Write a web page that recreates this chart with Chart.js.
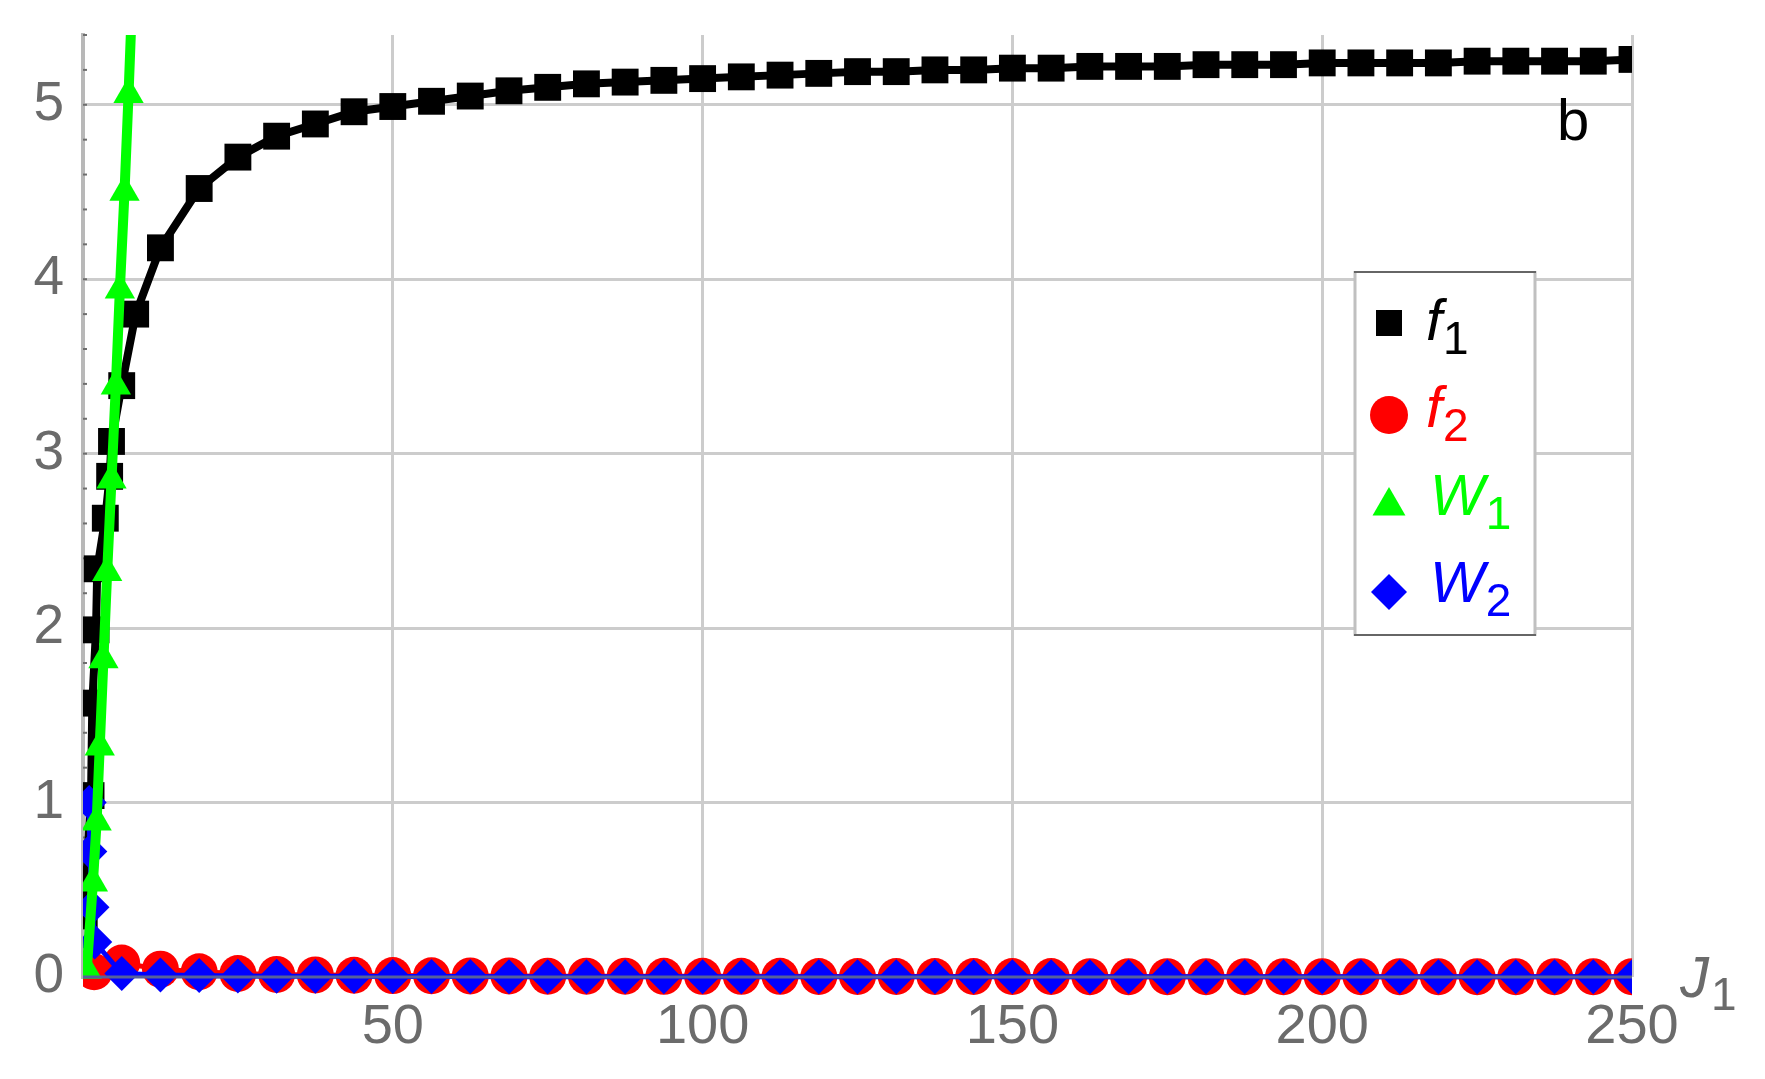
<!DOCTYPE html>
<html><head><meta charset="utf-8">
<script src="https://cdn.jsdelivr.net/npm/chart.js@4.4.1/dist/chart.umd.min.js"></script>
<style>html,body{margin:0;padding:0;background:#fff;overflow:hidden}#wrap{width:1765px;height:1079px;position:relative}</style>
</head><body><div id="wrap"><canvas id="c" width="1765" height="1079"></canvas></div>
<script>
// ---- data ----
const xTickLabels = [50, 100, 150, 200, 250];
const yTickLabels = [0, 1, 2, 3, 4, 5];

const regJ = [6.25,12.5,18.75,25,31.25,37.5,43.75,50,56.25,62.5,68.75,75,81.25,87.5,93.75,100,106.25,112.5,118.75,125,
  131.25,137.5,143.75,150,156.25,162.5,168.75,175,181.25,187.5,193.75,200,206.25,212.5,218.75,225,231.25,237.5,243.75,250];

const f1J = [0.2,1.3,1.5,2.1,2.3,3.6,4.3,4.6,6.25,8.5,12.5,18.75,25,31.25,37.5,43.75,50,56.25,62.5,68.75,75,81.25,87.5,93.75,100,
  106.25,112.5,118.75,125,131.25,137.5,143.75,150,156.25,162.5,168.75,175,181.25,187.5,193.75,200,206.25,212.5,218.75,225,231.25,237.5,243.75,250];
const f1V = [0.35,1.04,1.57,1.99,2.34,2.63,2.87,3.07,3.39,3.80,4.18,4.52,4.70,4.82,4.89,4.96,4.99,5.02,5.05,5.08,5.10,5.12,5.13,5.14,5.15,
  5.16,5.17,5.18,5.19,5.19,5.20,5.20,5.21,5.21,5.22,5.22,5.22,5.23,5.23,5.23,5.24,5.24,5.24,5.24,5.25,5.25,5.25,5.25,5.26];

const f2J = [1.8].concat(regJ);
const f2V = [0.03,0.08,0.045,0.03,0.02,0.015,0.012,0.01,0.008,0.007,0.006,0.006,0.005,0.005,0.005,0.004,0.004,0.004,0.004,0.003,0.003,
  0.003,0.003,0.003,0.003,0.003,0.002,0.002,0.002,0.002,0.002,0.002,0.002,0.002,0.002,0.002,0.002,0.002,0.002,0.002,0.002];

const w1J = [0.6,1.6,2.2,2.7,3.3,3.9,4.6,5.3,5.95,6.7,7.35,7.95];
const w1V = [0.04,0.54,0.89,1.32,1.82,2.32,2.85,3.39,3.94,4.50,5.06,5.62];

const w2J = [1.0,1.1,1.45,1.9].concat(regJ);
const w2V = [1.0,0.72,0.40,0.20,0.02,0.012,0.008,0.006,0.005,0.004,0.004,0.003,0.003,0.003,0.002,0.002,0.002,0.002,0.002,0.002,0.001,0.001,
  0.001,0.001,0.001,0.001,0.001,0.001,0.001,0.001,0.001,0.001,0.001,0.001,0.001,0.001,0.001,0.001,0.001,0.001,0.001,0.001,0.001,0.001];

const seriesNames = ['f', 'f', 'W', 'W'];
const seriesSubs = ['1', '2', '1', '2'];
const panelLabel = 'b';
const xAxisName = 'J';
const xAxisSub = '1';

function pts(xs, ys) { return xs.map((x, i) => ({x: x, y: ys[i]})); }

const colors = ['#000000', '#ff0000', '#00ff00', '#0000ff'];
const styles = ['rect', 'circle', 'triangle', 'rectRot'];

function drawMarker(ctx, style, x, y, r, color) {
  ctx.fillStyle = color; ctx.beginPath();
  if (style === 'rect') { const h = r * Math.SQRT1_2; ctx.rect(x - h, y - h, 2 * h, 2 * h); }
  else if (style === 'circle') { ctx.arc(x, y, r, 0, Math.PI * 2); }
  else if (style === 'triangle') {
    ctx.moveTo(x, y - r);
    ctx.lineTo(x + r * Math.sin(2 * Math.PI / 3), y - r * Math.cos(2 * Math.PI / 3));
    ctx.lineTo(x + r * Math.sin(4 * Math.PI / 3), y - r * Math.cos(4 * Math.PI / 3));
    ctx.closePath();
  } else { ctx.moveTo(x, y - r); ctx.lineTo(x + r, y); ctx.lineTo(x, y + r); ctx.lineTo(x - r, y); ctx.closePath(); }
  ctx.fill();
}

const overlay = {
  id: 'overlay',
  beforeDatasetsDraw(chart) {
    const ctx = chart.ctx, ys = chart.scales.y, a = chart.chartArea;
    ctx.save();
    ctx.strokeStyle = '#6e6e6e'; ctx.lineWidth = 2;
    for (let k = 0; k <= 27; k++) {
      const p = ys.getPixelForValue(k / 5);
      ctx.beginPath(); ctx.moveTo(a.left, p); ctx.lineTo(a.left + 4, p); ctx.stroke();
    }
    ctx.restore();
  },
  afterDatasetsDraw(chart) {
    const ctx = chart.ctx, xs = chart.scales.x, ys = chart.scales.y;
    ctx.save();
    const y0 = ys.getPixelForValue(0);
    ctx.strokeStyle = '#55609c'; ctx.lineWidth = 3;
    ctx.beginPath(); ctx.moveTo(xs.getPixelForValue(0), y0); ctx.lineTo(xs.getPixelForValue(250), y0); ctx.stroke();
    ctx.restore();
  },
  afterDraw(chart) {
    const ctx = chart.ctx;
    ctx.save();
    // legend box
    ctx.fillStyle = '#ffffff'; ctx.fillRect(1354, 271, 182, 365);
    ctx.strokeStyle = '#c0c0c0'; ctx.lineWidth = 3;
    ctx.beginPath(); ctx.moveTo(1355, 271); ctx.lineTo(1355, 636); ctx.moveTo(1535, 271); ctx.lineTo(1535, 636); ctx.stroke();
    ctx.strokeStyle = '#666666'; ctx.lineWidth = 2;
    ctx.beginPath(); ctx.moveTo(1354, 272); ctx.lineTo(1536, 272); ctx.moveTo(1354, 635); ctx.lineTo(1536, 635); ctx.stroke();
    const my = [323, 415, 506, 592];
    const mr = [18.4, 19, 19, 18];
    const tx = [1426, 1426, 1430, 1430];
    const base = [340, 427, 515, 602];
    for (let i = 0; i < 4; i++) {
      drawMarker(ctx, styles[i], 1389, my[i], mr[i], colors[i]);
      ctx.fillStyle = colors[i];
      ctx.font = 'italic 58px "Liberation Sans", Arial, sans-serif';
      ctx.textBaseline = 'alphabetic'; ctx.textAlign = 'left';
      ctx.fillText(seriesNames[i], tx[i], base[i]);
      const w = ctx.measureText(seriesNames[i]).width;
      ctx.font = '46px "Liberation Sans", Arial, sans-serif';
      ctx.fillText(seriesSubs[i], tx[i] + w + 1, base[i] + 14);
    }
    // panel label
    ctx.fillStyle = '#000';
    ctx.font = '58px "Liberation Sans", Arial, sans-serif';
    ctx.fillText(panelLabel, 1557, 140);
    // axis name
    ctx.fillStyle = '#6b6b6b';
    ctx.font = 'italic 58px "Liberation Sans", Arial, sans-serif';
    ctx.fillText(xAxisName, 1680, 997);
    const wj = ctx.measureText(xAxisName).width;
    ctx.font = '46px "Liberation Sans", Arial, sans-serif';
    ctx.fillText(xAxisSub, 1680 + wj + 2, 1010);
    ctx.restore();
  }
};

const order = [3, 2, 0, 1];
const radii = [19, 18.5, 17.5, 17.5];
const widths = [8, 5, 10, 5];
const sets = [pts(f1J, f1V), pts(f2J, f2V), pts(w1J, w1V), pts(w2J, w2V)];

new Chart(document.getElementById('c'), {
  type: 'scatter',
  data: {
    datasets: sets.map((d, i) => ({
      label: seriesNames[i] + seriesSubs[i],
      data: d,
      showLine: true,
      borderColor: colors[i],
      borderWidth: widths[i],
      backgroundColor: colors[i],
      pointStyle: styles[i],
      pointRadius: radii[i],
      pointBackgroundColor: colors[i],
      pointBorderWidth: 0,
      order: order[i],
      clip: {left: 0, top: 0, right: 0, bottom: 25},
      tension: 0
    }))
  },
  options: {
    responsive: false,
    animation: false,
    events: [],
    layout: {padding: {top: 35, right: 133, bottom: 0, left: 0}},
    plugins: {legend: {display: false}, tooltip: {enabled: false}},
    scales: {
      x: {
        type: 'linear', min: 0, max: 250,
        afterFit(s) { s.height = 102; },
        border: {display: false},
        grid: {
          color: (c) => (c.tick && c.tick.value === 0) ? 'rgba(0,0,0,0)' : '#cccccc',
          lineWidth: 3, drawTicks: false
        },
        ticks: {
          stepSize: 50, autoSkip: false, maxRotation: 0, padding: 17,
          color: '#6b6b6b', font: {size: 56, family: '"Liberation Sans", Arial, sans-serif'},
          callback: (v) => xTickLabels.includes(v) ? String(v) : ''
        }
      },
      y: {
        type: 'linear', min: 0, max: 5.4,
        afterFit(s) { s.width = 83; s.paddingTop = 0; s.paddingBottom = 0; },
        border: {display: true, color: '#b8b8b8', width: 4},
        grid: {
          color: (c) => (c.tick && c.tick.value === 0) ? 'rgba(0,0,0,0)' : '#cccccc',
          lineWidth: 3, drawTicks: false
        },
        ticks: {
          stepSize: 1, includeBounds: false, autoSkip: false, padding: 19,
          color: '#6b6b6b', font: {size: 55, family: '"Liberation Sans", Arial, sans-serif', lineHeight: 0.6},
          callback: (v) => yTickLabels.includes(v) ? String(v) : ''
        }
      }
    }
  },
  plugins: [overlay]
});
</script></body></html>
